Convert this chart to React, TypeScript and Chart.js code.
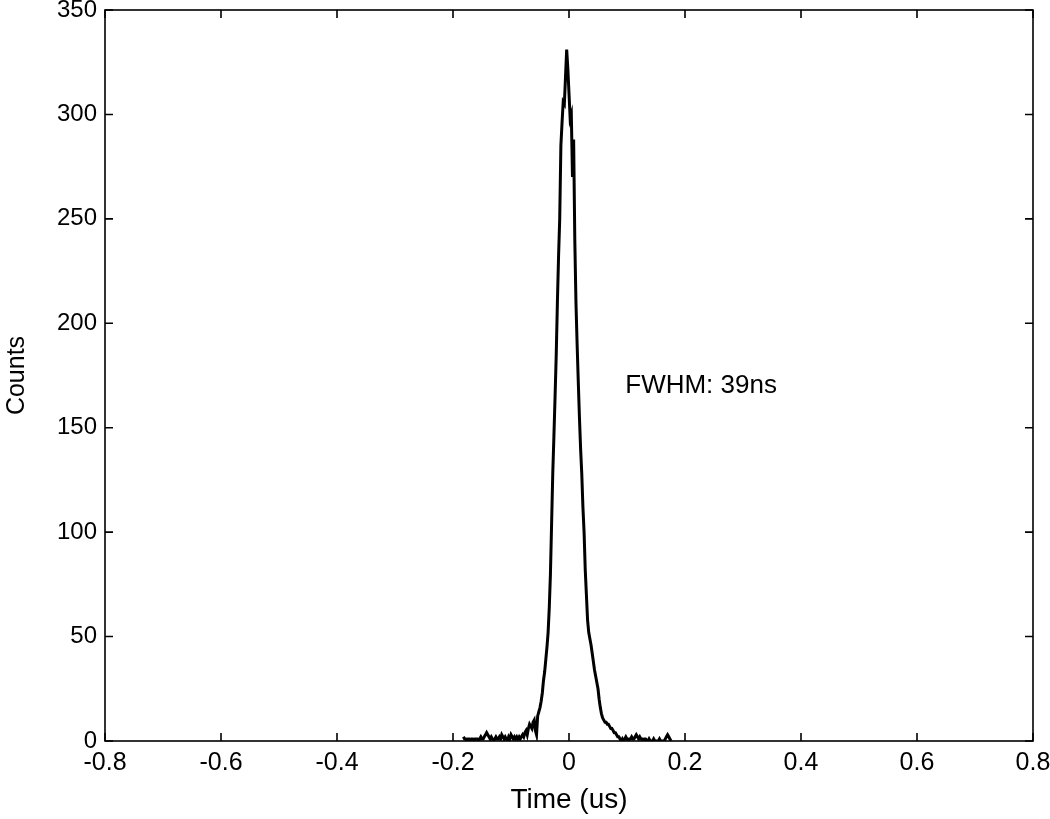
import React, { useEffect, useRef } from "react";
import { Chart, registerables } from "chart.js";

Chart.register(...registerables);

// Histogram bins: first bin centre and bin width (us)
const binStart = -0.182;
const binWidth = 0.002;

// Counts per bin
const counts: number[] = [
  // -0.182 .. -0.072
  2, 1, 1, 0, 1, 1, 0, 1, 1, 0, 1, 1, 1, 0, 1, 2, 1, 1, 2, 3, 4, 3, 2, 1, 2, 1, 0, 1, 2, 1,
  1, 2, 1, 3, 2, 1, 2, 1, 0, 2, 1, 3, 2, 1, 2, 1, 2, 1, 2, 1, 2, 3, 2, 4, 5, 3,
  // -0.070 .. -0.002
  6, 8, 7, 6, 9, 10, 5, 3, 12, 14, 16, 19, 23, 29, 33, 39, 45, 52, 64, 80, 104, 128, 146, 165,
  185, 210, 232, 250, 285, 296, 306, 305, 318, 331, 322,
  // 0.000 .. 0.088
  310, 298, 300, 270, 288, 240, 210, 190, 172, 155, 140, 128, 112, 100, 82, 70, 58, 52, 49, 46,
  42, 38, 34, 31, 28, 25, 20, 16, 13, 11, 10, 9, 9, 8, 8, 7, 6, 6, 5, 4, 4, 3, 2, 2, 1,
  // 0.090 .. 0.176
  0, 1, 0, 1, 2, 1, 0, 1, 1, 2, 1, 1, 2, 3, 2, 1, 2, 1, 1, 0, 1, 1, 0, 0, 1, 0, 0, 0, 1, 0,
  0, 0, 0, 1, 0, 0, 0, 0, 1, 2, 3, 2, 1, 0,
];

const xTicks: number[] = [-0.8, -0.6, -0.4, -0.2, 0, 0.2, 0.4, 0.6, 0.8];
const yTicks: number[] = [0, 50, 100, 150, 200, 250, 300, 350];

const annotationText = "FWHM: 39ns";
const annotationX = 0.097;
const annotationY = 170;

const xTitle = "Time (us)";
const yTitle = "Counts";

const FONT = "'Liberation Sans', Arial, sans-serif";

export default function App() {
  const ref = useRef<HTMLCanvasElement | null>(null);

  useEffect(() => {
    document.body.style.margin = "0";
    const canvas = ref.current;
    if (!canvas) return;

    const points = counts.map((c, i) => ({ x: binStart + i * binWidth, y: c }));

    const framePlugin = {
      id: "frame",
      afterDraw(chart: any) {
        const { ctx, chartArea, scales } = chart;
        const { left, right, top, bottom } = chartArea;
        ctx.save();
        ctx.strokeStyle = "#000";
        ctx.lineWidth = 1.6;
        ctx.strokeRect(left, top, right - left, bottom - top);
        const tl = 8;
        ctx.beginPath();
        xTicks.forEach((v) => {
          const px = scales.x.getPixelForValue(v);
          ctx.moveTo(px, bottom);
          ctx.lineTo(px, bottom - tl);
          ctx.moveTo(px, top);
          ctx.lineTo(px, top + tl);
        });
        yTicks.forEach((v) => {
          const py = scales.y.getPixelForValue(v);
          ctx.moveTo(left, py);
          ctx.lineTo(left + tl, py);
          ctx.moveTo(right, py);
          ctx.lineTo(right - tl, py);
        });
        ctx.stroke();
        // annotation
        ctx.fillStyle = "#000";
        ctx.font = `26px ${FONT}`;
        ctx.textAlign = "left";
        ctx.textBaseline = "middle";
        ctx.fillText(
          annotationText,
          scales.x.getPixelForValue(annotationX),
          scales.y.getPixelForValue(annotationY)
        );
        ctx.restore();
      },
    };

    const chart = new Chart(canvas, {
      type: "line",
      data: {
        datasets: [
          {
            data: points,
            borderColor: "#000",
            borderWidth: 3,
            pointRadius: 0,
            fill: false,
            tension: 0,
          },
        ],
      },
      options: {
        animation: false,
        responsive: false,
        maintainAspectRatio: false,
        layout: { padding: { left: 0, right: 17, top: 10, bottom: 0 } },
        plugins: {
          legend: { display: false },
          tooltip: { enabled: false },
        },
        scales: {
          x: {
            type: "linear",
            min: -0.8,
            max: 0.8,
            afterBuildTicks: (scale: any) => {
              scale.ticks = xTicks.map((v) => ({ value: v }));
            },
            afterFit: (scale: any) => {
              scale.height = 78;
              scale.paddingLeft = 0;
              scale.paddingRight = 0;
            },
            grid: { display: false, drawTicks: false },
            border: { display: false },
            ticks: {
              color: "#000",
              font: { family: FONT, size: 25 },
              padding: 7,
              maxRotation: 0,
              autoSkip: false,
              callback: (v: any) => (Math.abs(Number(v)) < 1e-9 ? "0" : Number(v).toFixed(1)),
            },
            title: {
              display: true,
              text: xTitle,
              color: "#000",
              font: { family: FONT, size: 28 },
              padding: { top: 0, bottom: 2 },
            },
          },
          y: {
            type: "linear",
            min: 0,
            max: 350,
            afterBuildTicks: (scale: any) => {
              scale.ticks = yTicks.map((v) => ({ value: v }));
            },
            afterFit: (scale: any) => {
              scale.width = 105;
              scale.paddingTop = 0;
              scale.paddingBottom = 0;
            },
            grid: { display: false, drawTicks: false },
            border: { display: false },
            ticks: {
              color: "#000",
              font: { family: FONT, size: 24 },
              padding: 8,
              autoSkip: false,
            },
            title: {
              display: true,
              text: yTitle,
              color: "#000",
              font: { family: FONT, size: 25 },
              padding: { top: 2, bottom: 0 },
            },
          },
        },
      },
      plugins: [framePlugin],
    });

    return () => chart.destroy();
  }, []);

  return (
    <div style={{ width: 1050, height: 819 }}>
      <canvas ref={ref} width={1050} height={819} style={{ display: "block" }} />
    </div>
  );
}
